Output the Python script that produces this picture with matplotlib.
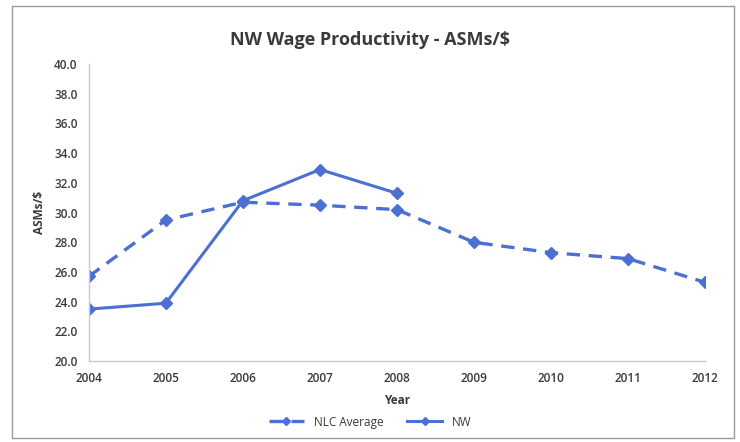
import matplotlib
matplotlib.use("Agg")
import matplotlib.pyplot as plt
from matplotlib.patches import Rectangle

years = [2004, 2005, 2006, 2007, 2008, 2009, 2010, 2011, 2012]
nlc_average = [25.7, 29.5, 30.7, 30.5, 30.2, 28.0, 27.3, 26.9, 25.3]
nw_years = [2004, 2005, 2006, 2007, 2008]
nw = [23.5, 23.9, 30.8, 32.9, 31.3]
yticks = [20, 22, 24, 26, 28, 30, 32, 34, 36, 38, 40]

plt.rcParams['font.family'] = ['Open Sans', 'DejaVu Sans']
color = "#4c6fd2"
txt = "#3a3a3a"

fig = plt.figure(figsize=(7.4, 4.42), dpi=100)
ax = fig.add_axes([0.12, 0.183, 0.833, 0.672])

ax.plot(years, nlc_average, color=color, lw=2.4, ls=(0, (4, 2.6)), marker='D', ms=6,
        label='NLC Average')
ax.plot(nw_years, nw, color=color, lw=2.2, marker='D', ms=6, label='NW')

ax.set_xlim(2004, 2012)
ax.set_ylim(20, 40)
ax.set_xticks(years)
ax.set_xticklabels([str(y) for y in years])
ax.set_yticks(yticks)
ax.set_yticklabels([f"{v:.1f}" for v in yticks])
ax.tick_params(axis='both', length=0, labelsize=8.5, colors=txt, pad=8)
for lab in ax.get_xticklabels() + ax.get_yticklabels():
    lab.set_fontweight('semibold')
for s in ['top', 'right']:
    ax.spines[s].set_visible(False)
for s in ['left', 'bottom']:
    ax.spines[s].set_color('#c8c8c8')
    ax.spines[s].set_linewidth(1)

ax.set_xlabel('Year', fontsize=8.5, fontweight='bold', color=txt, labelpad=6)
ax.set_ylabel('ASMs/$', fontsize=8.5, fontweight='bold', color=txt, labelpad=6)
fig.text(0.5, 0.91, 'NW Wage Productivity - ASMs/$', ha='center', va='center',
         fontsize=13, fontweight='bold', color=txt)

leg = fig.legend(loc='center', bbox_to_anchor=(0.5, 0.045), ncol=2, frameon=False,
                 fontsize=8.5, handlelength=3, columnspacing=2, markerscale=0.7)
for t in leg.get_texts():
    t.set_color(txt)

fig.patches.append(Rectangle((12/740, 4/442), 722/740, 432/442, transform=fig.transFigure,
                             fill=False, edgecolor='#9a9a9a', lw=1))

fig.savefig('out.png', dpi=100)
